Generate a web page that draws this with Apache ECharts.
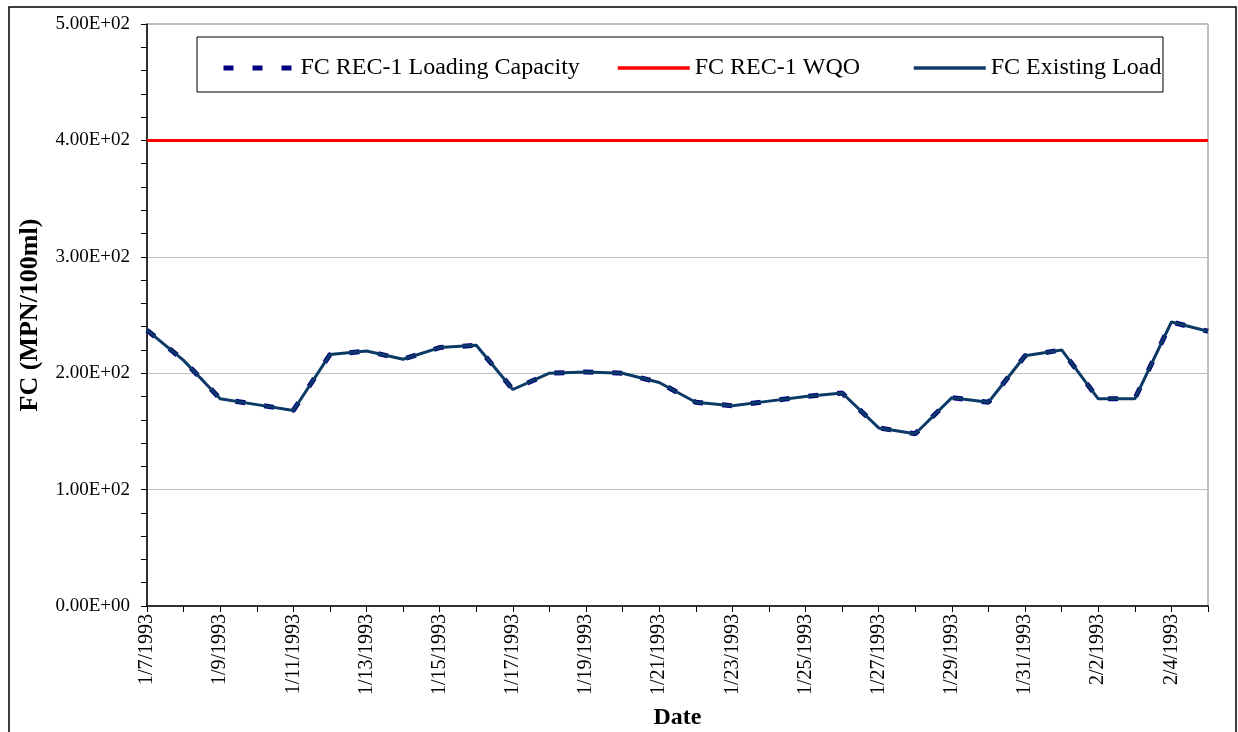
<!DOCTYPE html>
<html>
<head>
<meta charset="utf-8">
<title>FC Loading</title>
<script src="https://cdn.jsdelivr.net/npm/echarts@6/dist/echarts.min.js"></script>
<style>
  html, body { margin: 0; padding: 0; background: #ffffff; }
  #chart { width: 1238px; height: 732px; }
</style>
</head>
<body>
<div id="chart"></div>
<script>
// Daily sampling dates
const dates = [
  '1/7/1993', '1/8/1993', '1/9/1993', '1/10/1993', '1/11/1993', '1/12/1993',
  '1/13/1993', '1/14/1993', '1/15/1993', '1/16/1993', '1/17/1993', '1/18/1993',
  '1/19/1993', '1/20/1993', '1/21/1993', '1/22/1993', '1/23/1993', '1/24/1993',
  '1/25/1993', '1/26/1993', '1/27/1993', '1/28/1993', '1/29/1993', '1/30/1993',
  '1/31/1993', '2/1/1993', '2/2/1993', '2/3/1993', '2/4/1993', '2/5/1993'
];

// Fecal coliform, MPN/100ml
const loadingCapacity = [
  237, 211, 178, 173, 168, 216, 219, 212, 222, 224,
  186, 200, 201, 200, 192, 175, 172, 176, 180, 183,
  153, 148, 179, 175, 215, 220, 178, 178, 244, 236
];
const existingLoad = [
  237, 211, 178, 173, 168, 216, 219, 212, 222, 224,
  186, 200, 201, 200, 192, 175, 172, 176, 180, 183,
  153, 148, 179, 175, 215, 220, 178, 178, 244, 236
];
const wqo = dates.map(() => 400);

// Y axis tick labels (0 to 500 by 100)
const yTickLabels = ['0.00E+00', '1.00E+02', '2.00E+02', '3.00E+02', '4.00E+02', '5.00E+02'];

const seriesNames = ['FC REC-1 Loading Capacity', 'FC REC-1 WQO', 'FC Existing Load'];

const serif = '"Liberation Serif", "Times New Roman", serif';

const chart = echarts.init(document.getElementById('chart'), null, { renderer: 'canvas' });

// one legend entry per box slot so each sits at its own spot
const legendLefts = [216, 611, 907];
const legendLineWidths = [5, 3.5, 3.5];
const legends = seriesNames.map((n, i) => ({
  left: legendLefts[i], top: 51,
  itemWidth: 72, itemHeight: 14,
  itemStyle: { opacity: 0 },
  lineStyle: { width: legendLineWidths[i] },
  textStyle: { fontFamily: serif, fontSize: 24, color: '#000000' },
  data: [n]
}));

chart.setOption({
  backgroundColor: '#ffffff',
  animation: false,
  textStyle: { fontFamily: serif, color: '#000000' },
  grid: {
    left: 147, right: 30, top: 24, bottom: 126,
    outerBoundsMode: 'none',
    containLabel: false,
    show: true, borderColor: '#808080', borderWidth: 1
  },
  legend: legends,
  graphic: [
    {
      type: 'rect', silent: true, z: -1,
      shape: { x: 197, y: 37, width: 966, height: 55 },
      style: { fill: '#ffffff', stroke: '#000000', lineWidth: 1 }
    },
    {
      type: 'rect', silent: true, z: -2,
      shape: { x: 9, y: 7, width: 1227, height: 740 },
      style: { fill: 'none', stroke: '#000000', lineWidth: 1.5 }
    }
  ],
  xAxis: {
    type: 'category',
    data: dates,
    boundaryGap: false,
    name: 'Date',
    nameLocation: 'middle',
    nameGap: 100,
    nameTextStyle: { fontFamily: serif, fontSize: 24, fontWeight: 'bold', color: '#000000' },
    axisLine: { lineStyle: { color: '#000000', width: 1.5 } },
    axisTick: { show: true, interval: 0, length: 6, lineStyle: { color: '#000000' } },
    axisLabel: {
      interval: 1, rotate: 90, margin: 8,
      fontFamily: serif, fontSize: 20, color: '#000000'
    },
    splitLine: { show: false }
  },
  yAxis: {
    type: 'value',
    min: 0, max: 500, interval: 100,
    name: 'FC (MPN/100ml)',
    nameLocation: 'middle',
    nameGap: 104,
    nameTextStyle: { fontFamily: serif, fontSize: 26, fontWeight: 'bold', color: '#000000' },
    axisLine: { show: true, lineStyle: { color: '#000000', width: 1.5 } },
    axisTick: { show: true, length: 6, lineStyle: { color: '#000000' } },
    minorTick: { show: true, splitNumber: 5, length: 6, lineStyle: { color: '#000000' } },
    axisLabel: {
      margin: 17, fontFamily: serif, fontSize: 19, color: '#000000',
      formatter: (v) => yTickLabels[Math.round(v / 100)]
    },
    splitLine: { show: true, lineStyle: { color: '#c0c0c0', width: 1 } }
  },
  series: [
    {
      name: seriesNames[0],
      type: 'line',
      data: loadingCapacity,
      showSymbol: false,
      symbol: 'none',
      z: 2,
      lineStyle: { color: '#000080', width: 5, type: [10, 19] },
      itemStyle: { color: '#000080' }
    },
    {
      name: seriesNames[1],
      type: 'line',
      data: wqo,
      showSymbol: false,
      symbol: 'none',
      z: 3,
      lineStyle: { color: '#ff0000', width: 3 },
      itemStyle: { color: '#ff0000' }
    },
    {
      name: seriesNames[2],
      type: 'line',
      data: existingLoad,
      showSymbol: false,
      symbol: 'none',
      z: 4,
      lineStyle: { color: '#0c3a66', width: 3 },
      itemStyle: { color: '#0c3a66' }
    }
  ]
});
</script>
</body>
</html>
